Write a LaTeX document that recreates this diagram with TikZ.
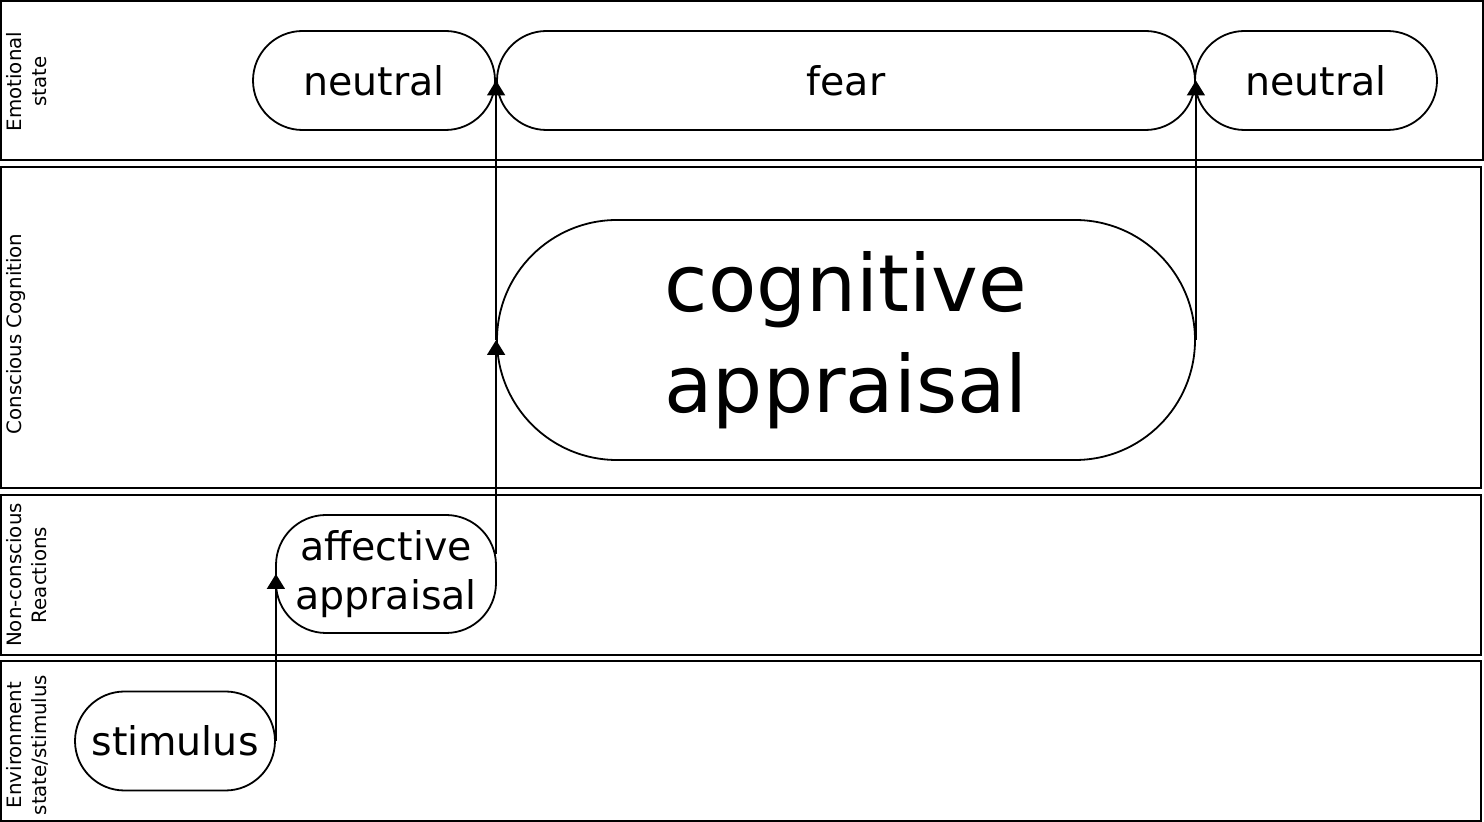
\documentclass[tikz,border=0pt]{standalone}
\usepackage{fontspec}
\setmainfont{DejaVu Sans}
\usetikzlibrary{positioning, arrows.meta}

\begin{document}
\begin{tikzpicture}[x=0.5pt, y=-0.5pt,
        lane/.style={draw, line width=1pt},
        lanelabel/.style={rotate=90, anchor=north, inner sep=0pt, align=center, font=\fontsize{9.9}{12.6}\selectfont},
        state/.style={draw, line width=0.9pt, rounded corners=24.75pt, minimum height=49.5pt, inner sep=0pt, font=\fontsize{19.75}{24.7}\selectfont},
        flow/.style={line width=0.9pt, -{Triangle[length=7.5pt, width=9pt]}}]
        \useasboundingbox (0,0) rectangle (1484,822);
        % swimlanes
        \draw[lane] (1,1) rectangle (1483,160);
        \draw[lane] (1,167) rectangle (1481,488);
        \draw[lane] (1,495) rectangle (1481,655);
        \draw[lane] (1,661) rectangle (1481,821);
        \node[lanelabel] (emoLabel) at (6,81.5) {Emotional\\state};
        \node[lanelabel] (cogLabel) at (6,334) {Conscious Cognition};
        \node[lanelabel] (reactLabel) at (6,575) {Non-conscious\\Reactions};
        \node[lanelabel] (envLabel) at (6,745) {Environment\\state/stimulus};
        % states
        \node[state, minimum width=121pt] (neutralA) at (374,80.5) {neutral};
        \node[state, minimum width=349pt] (fear) at (846,80.5) {fear};
        \node[state, minimum width=121pt] (neutralB) at (1316,80.5) {neutral};
        \node[state, minimum width=349pt, minimum height=120pt, rounded corners=60pt, align=center,
              font=\fontsize{39.5}{50.5}\selectfont] (cognitive) at (846,340) {cognitive\\appraisal};
        \node[state, minimum width=110pt, minimum height=59pt, rounded corners=25pt, align=center] (affective) at (386,574) {affective\\appraisal};
        \node[state, minimum width=100pt] (stimulus) at (175,741) {stimulus};
        % transitions
        \coordinate (affOut) at ([yshift=10pt]affective.east);
        \draw[flow] (stimulus.east) -- (stimulus.east |- affective.west);
        \draw[flow] (cognitive.west |- affOut) -- (cognitive.west);
        \draw[flow] (cognitive.west) -- (fear.west);
        \draw[flow] (cognitive.east) -- (fear.east);
    \end{tikzpicture}
\end{document}
